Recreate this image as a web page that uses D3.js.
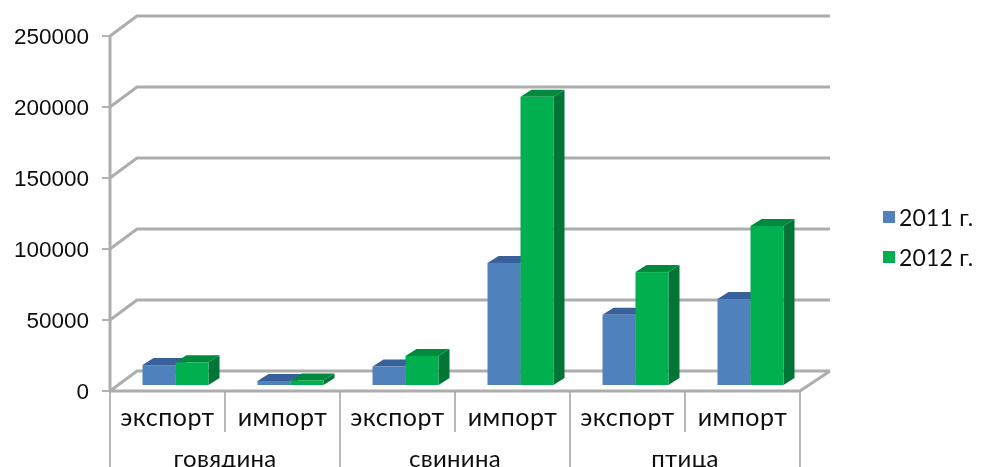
<!DOCTYPE html>
<html><head><meta charset="utf-8">
<script src="https://cdnjs.cloudflare.com/ajax/libs/d3/7.8.5/d3.min.js"></script>
<style>html,body{margin:0;padding:0;background:#fff}svg{display:block}</style>
</head><body><svg id="c" width="987" height="467"></svg>
<script>
const groups = ["говядина","свинина","птица"];
const subCategories = ["экспорт","импорт"];
const seriesNames = ["2011 г.","2012 г."];
const values2011 = [14000,2800,13000,86000,49500,60500];
const values2012 = [16000,3200,20500,203000,79500,112000];
const yTicks = [0,50000,100000,150000,200000,250000];

const svg = d3.select("#c");
const defs = svg.append("defs");
defs.append("filter").attr("id","soft").append("feGaussianBlur").attr("stdDeviation",0.55);
const root = svg.append("g").attr("filter","url(#soft)");

const catKeys = d3.range(groups.length*subCategories.length);
const x = d3.scaleBand().domain(catKeys).range([110,800]);
const g = d3.scaleBand().domain(groups).range([110,800]);
const s = d3.scaleBand().domain(seriesNames).range([32.5,98.5]);
const y = d3.scaleLinear().domain([0,250000]).range([391,36]);
const dx = 27, dy = -20, axisC = "#adadad";

const grid = root.append("g");
yTicks.forEach(t=>{
  const py = y(t);
  grid.append("polyline")
    .attr("points",`${110},${py} ${110+dx},${py+dy} 830,${py+dy}`)
    .attr("fill","none").attr("stroke",axisC).attr("stroke-width",3);
  grid.append("line").attr("x1",102).attr("x2",110).attr("y1",py).attr("y2",py)
    .attr("stroke","#999").attr("stroke-width",1.5);
});
grid.append("line").attr("x1",110).attr("x2",110).attr("y1",y(250000)).attr("y2",y(0)).attr("stroke",axisC).attr("stroke-width",3);
grid.append("polyline").attr("points",`110,391 800,391 830,371`).attr("fill","none").attr("stroke",axisC).attr("stroke-width",3);

const axis = root.append("g").attr("transform","translate(110,0)")
  .call(d3.axisLeft(y).tickValues(yTicks).tickFormat(d3.format("d")).tickSize(0).tickPadding(21));
axis.select(".domain").remove();
axis.selectAll("text").attr("font-family","'Liberation Sans',Arial,sans-serif").attr("font-size",22.5).attr("fill","#111");

const base = 385, depthX = 11, depthY = -7;
const scaleH = v => y(0)-y(v);
const styles = [
  {front:"#4f81bd",top:"#37609a",side:"#2f5585"},
  {front:"#00b050",top:"#008a3e",side:"#007536"}
];
const barData = [];
catKeys.forEach(i=>{
  barData.push({i,si:0,v:values2011[i]});
  barData.push({i,si:1,v:values2012[i]});
});
const bars = root.append("g").selectAll("g").data(barData).join("g");
const X0 = d=>x(d.i)+s(seriesNames[d.si]);
const W = s.bandwidth();
const T = d=>base-scaleH(d.v);
bars.append("polygon").attr("fill",d=>styles[d.si].side)
  .attr("points",d=>{const r=X0(d)+W,t=T(d);return `${r},${base} ${r+depthX},${base+depthY} ${r+depthX},${t+depthY} ${r},${t}`});
bars.append("polygon").attr("fill",d=>styles[d.si].top)
  .attr("points",d=>{const l=X0(d),t=T(d);return `${l},${t} ${l+depthX},${t+depthY} ${l+W+depthX},${t+depthY} ${l+W},${t}`});
bars.append("rect").attr("fill",d=>styles[d.si].front)
  .attr("x",X0).attr("width",W).attr("y",T).attr("height",d=>base-T(d));

const catFont = "Lato,'Noto Sans',sans-serif";
const sep = root.append("g").attr("stroke","#a6a6a6").attr("stroke-width",1.6);
catKeys.forEach(i=>{
  if(i%2===1) sep.append("line").attr("x1",x(i)).attr("x2",x(i)).attr("y1",391).attr("y2",432);
});
groups.forEach(d=>{
  sep.append("line").attr("x1",g(d)).attr("x2",g(d)).attr("y1",391).attr("y2",467);
});
sep.append("line").attr("x1",800).attr("x2",800).attr("y1",391).attr("y2",467);

root.append("g").selectAll("text").data(catKeys).join("text")
  .attr("x",i=>x(i)+x.bandwidth()/2).attr("y",426).attr("text-anchor","middle")
  .attr("font-family",catFont).attr("font-size",25).attr("letter-spacing",0.5).attr("fill","#111")
  .text(i=>subCategories[i%2]);
root.append("g").selectAll("text").data(groups).join("text")
  .attr("x",d=>g(d)+g.bandwidth()/2).attr("y",467).attr("text-anchor","middle")
  .attr("font-family",catFont).attr("font-size",24).attr("letter-spacing",0.3).attr("fill","#111")
  .text(d=>d);

const leg = root.append("g").selectAll("g").data(seriesNames).join("g")
  .attr("transform",(d,i)=>`translate(883,${211+i*40})`);
leg.append("rect").attr("width",12).attr("height",12).attr("fill",(d,i)=>styles[i].front);
leg.append("text").attr("x",16).attr("y",15).attr("font-family",catFont).attr("font-size",23)
  .attr("letter-spacing",0.2).attr("fill","#111").text(d=>d);
</script></body></html>
